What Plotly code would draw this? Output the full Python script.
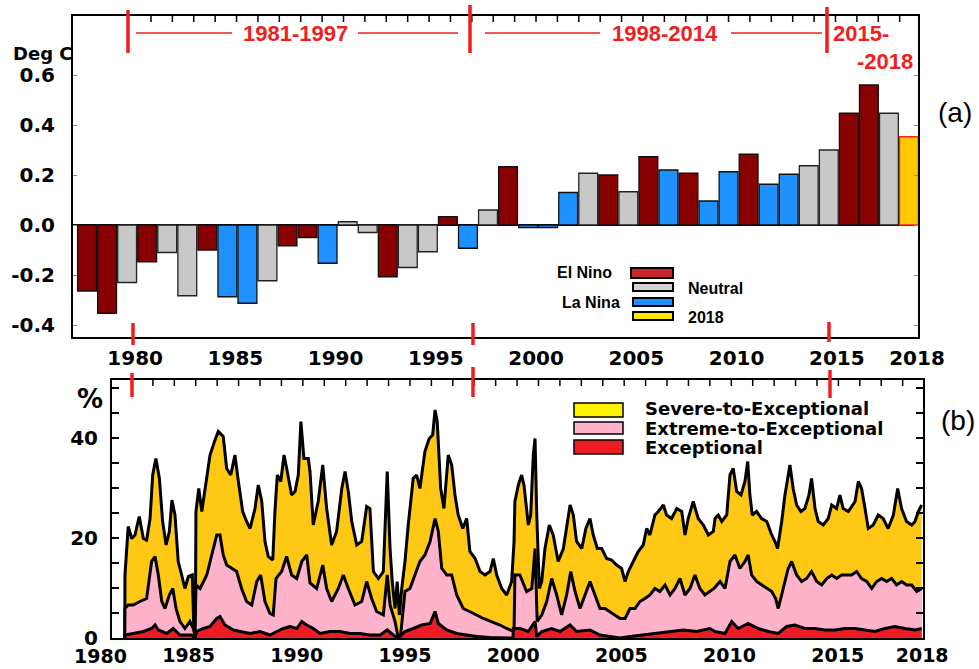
import plotly.graph_objects as go

W, H = 979, 669

# ---------------- Panel (a): annual temperature anomaly ----------------
YEARS_A = list(range(1977, 2019))
ANOMALY = [-0.264, -0.353, -0.23, -0.147, -0.11, -0.283, -0.10, -0.287, -0.313, -0.223,
           -0.083, -0.05, -0.153, 0.013, -0.03, -0.207, -0.17, -0.107, 0.033, -0.093,
           0.06, 0.233, -0.01, -0.01, 0.13, 0.207, 0.2, 0.133, 0.273, 0.22,
           0.207, 0.096, 0.213, 0.283, 0.163, 0.203, 0.237, 0.3, 0.447, 0.56,
           0.447, 0.353]
PHASE = ["E", "E", "N", "E", "N", "N", "E", "L", "L", "N",
         "E", "E", "L", "N", "N", "E", "N", "N", "E", "L",
         "N", "E", "L", "L", "L", "N", "E", "N", "E", "L",
         "E", "L", "L", "E", "L", "L", "N", "N", "E", "E",
         "N", "Y"]
PHASE_NAMES = {"E": "El Nino", "N": "Neutral", "L": "La Nina", "Y": "2018"}
TOP_TICK_VALS = [1980, 1985, 1990, 1995, 2000, 2005, 2010, 2015, 2019]
TOP_TICK_TEXT = ["1980", "1985", "1990", "1995", "2000", "2005", "2010", "2015", "2018"]
TOP_Y_TICKS = [-0.4, -0.2, 0.0, 0.2, 0.4, 0.6]
TOP_Y_TEXT = ["-0.4", "-0.2", "0.0", "0.2", "0.4", "0.6"]
PERIODS = ["1981-1997", "1998-2014", "2015-", "-2018"]

# ---------------- Panel (b): drought area (%) ----------------
SEV_T = [1982.05, 1982.06, 1982.21, 1982.37, 1982.52, 1982.72, 1982.91, 1983.06, 1983.22, 1983.34,
         1983.49, 1983.65, 1983.80, 1983.96, 1984.11, 1984.23, 1984.37, 1984.52, 1984.68, 1984.83,
         1984.99, 1985.17, 1985.25, 1985.31, 1985.34, 1985.47, 1985.61, 1985.84, 1985.99, 1986.22,
         1986.37, 1986.60, 1986.76, 1986.95, 1987.14, 1987.30, 1987.50, 1987.68, 1987.84, 1988.07,
         1988.22, 1988.38, 1988.53, 1988.68, 1988.89, 1988.99, 1989.10, 1989.26, 1989.41, 1989.56,
         1989.76, 1989.92, 1990.07, 1990.19, 1990.33, 1990.53, 1990.61, 1990.76, 1990.99, 1991.20,
         1991.38, 1991.61, 1991.84, 1992.08, 1992.23, 1992.38, 1992.54, 1992.77, 1993.00, 1993.23,
         1993.38, 1993.54, 1993.77, 1994.00, 1994.18, 1994.31, 1994.41, 1994.54, 1994.64, 1994.74,
         1994.85, 1995.00, 1995.15, 1995.38, 1995.54, 1995.69, 1995.92, 1996.12, 1996.28, 1996.39,
         1996.49, 1996.65, 1996.80, 1997.00, 1997.16, 1997.31, 1997.46, 1997.67, 1997.85, 1998.00,
         1998.24, 1998.47, 1998.70, 1998.93, 1999.08, 1999.24, 1999.47, 1999.70, 1999.93, 2000.04,
         2000.08, 2000.24, 2000.39, 2000.50, 2000.70, 2000.81, 2000.93, 2001.01, 2001.09, 2001.21,
         2001.32, 2001.47, 2001.67, 2001.85, 2002.08, 2002.32, 2002.47, 2002.63, 2002.78, 2002.93,
         2003.17, 2003.36, 2003.55, 2003.70, 2003.89, 2004.09, 2004.32, 2004.55, 2004.78, 2005.01,
         2005.17, 2005.32, 2005.55, 2005.78, 2006.01, 2006.17, 2006.32, 2006.55, 2006.71, 2006.94,
         2007.09, 2007.32, 2007.56, 2007.79, 2007.94, 2008.09, 2008.32, 2008.55, 2008.79, 2009.02,
         2009.25, 2009.33, 2009.48, 2009.64, 2009.87, 2010.02, 2010.17, 2010.33, 2010.53, 2010.71,
         2010.84, 2010.94, 2011.05, 2011.25, 2011.48, 2011.72, 2011.95, 2012.10, 2012.22, 2012.41,
         2012.56, 2012.79, 2012.94, 2013.10, 2013.30, 2013.48, 2013.67, 2013.79, 2013.95, 2014.10,
         2014.33, 2014.56, 2014.72, 2014.95, 2015.10, 2015.25, 2015.49, 2015.80, 2015.95, 2016.10,
         2016.26, 2016.41, 2016.64, 2016.87, 2017.10, 2017.33, 2017.57, 2017.77, 2017.95, 2018.18,
         2018.42, 2018.57, 2018.72, 2018.88]
SEV_V = [0, 12.6, 22.3, 19.9, 20.6, 24.3, 19.9, 19.6, 23.9, 32.6,
         35.9, 31.9, 23.3, 18.6, 21.3, 27.6, 24.6, 15.3, 12.6, 9.9,
         12.3, 12.6, 0.6, 0.6, 25.3, 29.9, 25.3, 31.9, 36.6, 39.6,
         41.3, 40.3, 33.9, 32.6, 36.6, 31.3, 25.3, 23.3, 21.9, 25.9,
         30.6, 27.3, 19.3, 16.3, 15.6, 25.3, 32.6, 31.3, 36.6, 33.3,
         28.6, 29.3, 32.6, 43.3, 35.9, 35.9, 33.3, 22.6, 27.3, 34.6,
         25.9, 18.6, 21.3, 29.9, 33.3, 29.3, 23.3, 18.6, 19.3, 26.3,
         25.9, 13.3, 11.9, 13.3, 33.3, 17.9, 11.3, 5.9, 11.3, 4.6,
         9.9, 15.3, 22.6, 31.9, 32.6, 29.9, 37.3, 39.9, 40.6, 45.6,
         43.3, 29.9, 25.9, 36.6, 34.6, 28.6, 24.6, 21.9, 23.9, 17.3,
         15.9, 13.3, 12.6, 13.3, 15.9, 12.6, 9.9, 8.6, 11.3, 19.3,
         27.3, 30.6, 32.6, 30.6, 22.6, 24.6, 36.6, 39.9, 24.6, 9.9,
         11.3, 17.9, 22.6, 20.6, 15.3, 17.9, 22.6, 26.6, 24.6, 19.3,
         17.9, 21.9, 23.9, 20.6, 17.9, 17.9, 15.9, 15.6, 14.6, 13.9,
         11.3, 13.3, 15.3, 17.3, 18.6, 21.9, 20.6, 24.6, 25.3, 26.6,
         24.6, 23.9, 25.9, 25.3, 20.6, 23.9, 27.3, 23.9, 22.6, 20.6,
         21.3, 23.9, 24.6, 23.3, 24.6, 32.6, 33.9, 29.3, 28.6, 31.3,
         35.3, 28.6, 24.6, 25.3, 23.9, 23.3, 20.6, 19.3, 17.9, 23.3,
         28.6, 34.6, 29.9, 26.6, 25.3, 25.9, 28.6, 31.9, 25.9, 23.3,
         22.6, 23.9, 26.6, 25.9, 28.6, 25.9, 25.3, 27.3, 31.3, 29.9,
         25.9, 21.9, 22.6, 24.6, 23.9, 21.9, 24.6, 29.9, 25.9, 23.3,
         22.6, 23.3, 25.3, 26.6]

EXT_T = [1982.05, 1982.06, 1982.21, 1982.44, 1982.75, 1983.06, 1983.29, 1983.45, 1983.60, 1983.76,
         1983.91, 1984.11, 1984.27, 1984.42, 1984.60, 1984.83, 1985.06, 1985.22, 1985.30, 1985.34,
         1985.53, 1985.84, 1986.07, 1986.30, 1986.45, 1986.60, 1986.76, 1986.99, 1987.22, 1987.45,
         1987.68, 1987.92, 1988.15, 1988.33, 1988.53, 1988.76, 1988.91, 1989.04, 1989.30, 1989.53,
         1989.76, 1990.00, 1990.23, 1990.46, 1990.61, 1990.92, 1991.20, 1991.38, 1991.61, 1991.92,
         1992.15, 1992.38, 1992.69, 1993.00, 1993.23, 1993.46, 1993.69, 1994.00, 1994.18, 1994.31,
         1994.54, 1994.69, 1994.80, 1995.00, 1995.23, 1995.46, 1995.69, 1995.92, 1996.16, 1996.39,
         1996.54, 1996.70, 1996.93, 1997.16, 1997.39, 1997.69, 1998.00, 1998.31, 1998.62, 1999.01,
         1999.39, 1999.70, 2000.04, 2000.08, 2000.31, 2000.62, 2000.86, 2001.01, 2001.11, 2001.32,
         2001.55, 2001.78, 2002.01, 2002.24, 2002.47, 2002.66, 2002.86, 2003.09, 2003.32, 2003.55,
         2003.78, 2004.01, 2004.24, 2004.47, 2004.70, 2004.94, 2005.17, 2005.40, 2005.63, 2005.86,
         2006.09, 2006.32, 2006.55, 2006.78, 2007.02, 2007.25, 2007.48, 2007.71, 2007.94, 2008.17,
         2008.40, 2008.63, 2008.86, 2009.09, 2009.28, 2009.56, 2009.79, 2010.02, 2010.25, 2010.48,
         2010.71, 2010.86, 2011.02, 2011.25, 2011.48, 2011.72, 2011.95, 2012.13, 2012.25, 2012.48,
         2012.71, 2012.87, 2013.10, 2013.33, 2013.56, 2013.79, 2014.03, 2014.26, 2014.49, 2014.72,
         2014.95, 2015.18, 2015.41, 2015.64, 2015.87, 2016.10, 2016.34, 2016.57, 2016.80, 2017.03,
         2017.26, 2017.49, 2017.72, 2017.95, 2018.18, 2018.42, 2018.65, 2018.88]
EXT_V = [0, 5.9, 6.6, 6.6, 7.3, 7.9, 15.3, 16.3, 12.6, 7.3,
         5.9, 8.6, 9.9, 5.9, 3.3, 1.9, 3.3, 1.9, 0.3, 10.6,
         9.9, 12.6, 16.6, 20.6, 20.6, 16.6, 14.6, 13.9, 13.3, 9.9,
         7.3, 6.6, 11.3, 12.6, 7.3, 4.9, 4.6, 11.9, 13.3, 16.3,
         12.6, 11.9, 15.3, 16.6, 11.0, 9.9, 14.6, 9.9, 7.3, 9.9,
         12.6, 9.9, 6.6, 7.3, 11.3, 7.9, 5.3, 4.6, 12.6, 6.6,
         3.3, 0, 0.6, 9.3, 9.9, 12.6, 15.3, 16.6, 19.3, 23.9,
         21.3, 13.9, 12.6, 12.6, 8.6, 5.9, 5.3, 4.6, 3.9, 3.3,
         2.6, 1.9, 1.3, 12.6, 12.6, 9.3, 9.9, 17.9, 3.3, 4.6,
         7.3, 11.9, 8.6, 4.6, 8.6, 13.3, 9.3, 5.9, 8.6, 11.3,
         8.6, 5.9, 5.9, 5.3, 4.6, 3.9, 3.9, 5.9, 5.9, 7.3,
         7.9, 8.6, 9.9, 9.3, 10.6, 8.6, 9.9, 11.9, 8.6, 9.9,
         12.6, 9.9, 8.6, 9.3, 9.9, 11.3, 9.9, 15.3, 16.6, 13.9,
         15.3, 16.6, 12.6, 11.3, 10.6, 9.9, 9.3, 7.9, 5.9, 9.9,
         13.9, 15.3, 12.6, 11.3, 11.9, 13.3, 11.3, 10.6, 11.9, 12.6,
         11.9, 12.6, 12.6, 12.6, 13.3, 11.9, 11.3, 9.9, 11.3, 11.9,
         11.3, 11.9, 10.6, 11.3, 10.6, 10.6, 9.3, 9.9]

EXC_T = [1982.05, 1982.06, 1982.44, 1982.91, 1983.29, 1983.45, 1983.60, 1983.99, 1984.29, 1984.60,
         1985.14, 1985.30, 1985.37, 1985.68, 1985.99, 1986.30, 1986.45, 1986.68, 1987.07, 1987.45,
         1987.84, 1988.30, 1988.76, 1989.07, 1989.38, 1989.69, 1990.00, 1990.23, 1990.46, 1990.76,
         1991.07, 1991.53, 1992.00, 1992.46, 1992.92, 1993.38, 1993.85, 1994.18, 1994.46, 1994.69,
         1995.00, 1995.38, 1995.77, 1996.16, 1996.39, 1996.54, 1996.93, 1997.39, 1997.85, 1998.31,
         1998.93, 1999.54, 1999.99, 2000.01, 2000.31, 2000.70, 2001.01, 2001.09, 2001.32, 2001.78,
         2002.16, 2002.63, 2002.93, 2003.55, 2004.01, 2004.47, 2004.94, 2005.40, 2006.01, 2006.63,
         2007.25, 2007.86, 2008.48, 2009.09, 2009.33, 2009.79, 2010.10, 2010.40, 2010.86, 2011.33,
         2011.79, 2012.25, 2012.64, 2013.02, 2013.48, 2013.95, 2014.41, 2014.87, 2015.33, 2015.80,
         2016.26, 2016.72, 2017.18, 2017.64, 2018.11, 2018.57, 2018.88]
EXC_V = [0, 0.6, 0.9, 1.3, 1.9, 2.6, 1.6, 0.9, 1.9, 0.6,
         0.6, 0, 1.3, 1.9, 2.3, 3.9, 4.3, 2.6, 1.6, 1.3,
         0.9, 1.3, 0.6, 1.3, 1.9, 2.3, 1.9, 3.3, 2.6, 1.9,
         0.9, 1.3, 1.3, 0.9, 0.9, 0.6, 0.6, 1.6, 0.6, 0,
         1.3, 1.9, 2.6, 2.9, 5.3, 2.9, 1.6, 0.9, 0.6, 0.3,
         0.1, 0, 0, 1.9, 1.9, 1.3, 3.3, 0.3, 1.3, 1.9,
         1.3, 2.6, 1.3, 1.6, 0.6, 0.3, 0, 0.3, 0.6, 0.9,
         1.3, 1.6, 1.3, 1.9, 1.3, 0.9, 3.3, 1.9, 2.9, 1.9,
         1.3, 0.9, 2.3, 2.6, 1.9, 1.9, 1.6, 1.6, 1.9, 1.9,
         1.6, 1.3, 1.9, 2.3, 1.9, 1.6, 1.9]

BOTTOM_NAMES = ["Severe-to-Exceptional", "Extreme-to-Exceptional", "Exceptional"]
BOTTOM_TICK_VALS = [1985, 1990, 1995, 2000, 2005, 2010, 2015, 2018.9]
BOTTOM_TICK_TEXT = ["1985", "1990", "1995", "2000", "2005", "2010", "2015", "2018"]
BOTTOM_FIRST_LABEL = "1980"

# ---------------- styling ----------------
BAR_FILL = {"E": "#880000", "N": "#C8C8C8", "L": "#1E90FF", "Y": "#FFC800"}
BAR_EDGE = {"E": "#111111", "N": "#222222", "L": "#111111", "Y": "#FF2020"}
LEG_FILL = {"E": "#C8282C", "N": "#D2D2D2", "L": "#1E90FF", "Y": "#FFE600"}
AREA_FILL = ["#FFC814", "#FFB3CB", "#EE1C24"]
AREA_SWATCH = ["#FFF200", "#FFB3CB", "#EE1C24"]
RED = "#F01E1E"
BOLD = dict(family="DejaVu Sans", size=20, color="black", weight="bold")
BOLD_X = dict(family="DejaVu Sans", size=19, color="black", weight="bold")

# small yearly tick marks along the top edge of each panel (axis decoration)
TOP_MINOR = [1980.79 + 1.067 * i for i in range(36)]
BOT_MINOR = [1982.36 + 0.99 * i for i in range(37)]


def PX(x):
    return x / W


def PY(y):
    return 1 - y / H


fig = go.Figure()

for code in ["E", "N", "L", "Y"]:
    xs = [yr for yr, p in zip(YEARS_A, PHASE) if p == code]
    vs = [v for v, p in zip(ANOMALY, PHASE) if p == code]
    fig.add_trace(go.Bar(
        x=xs, y=vs, name=PHASE_NAMES[code], width=0.94, offset=0.13,
        marker=dict(color=BAR_FILL[code], line=dict(color=BAR_EDGE[code], width=1.3)),
        xaxis="x", yaxis="y", showlegend=False))

for t, v, fc in zip([SEV_T, EXT_T, EXC_T], [SEV_V, EXT_V, EXC_V], AREA_FILL):
    fig.add_trace(go.Scatter(
        x=t, y=v, mode="lines", fill="tozeroy", fillcolor=fc,
        line=dict(color="black", width=3), xaxis="x2", yaxis="y2", showlegend=False))

shapes = []
annotations = []

# top-edge yearly tick marks
for t in TOP_MINOR:
    shapes.append(dict(type="line", xref="x", yref="paper", x0=t, x1=t,
                       y0=PY(16), y1=PY(22), line=dict(color="black", width=1.5)))
for t in BOT_MINOR:
    shapes.append(dict(type="line", xref="x2", yref="paper", x0=t, x1=t,
                       y0=PY(380), y1=PY(386), line=dict(color="black", width=1.5)))

# period separators (red ticks)
for (x, y0, y1) in [(128, 10, 53), (470, 5, 53), (827, 7, 53),
                    (133, 323, 345), (473, 323, 345), (829, 322, 342),
                    (132, 373, 397), (473, 367, 397), (830, 370, 398)]:
    shapes.append(dict(type="line", xref="paper", yref="paper", x0=PX(x), x1=PX(x),
                       y0=PY(y0), y1=PY(y1), line=dict(color=RED, width=3.5)))
# period guide lines
for (x0, x1) in [(136, 232), (358, 458), (485, 600), (731, 822)]:
    shapes.append(dict(type="line", xref="paper", yref="paper", x0=PX(x0), x1=PX(x1),
                       y0=PY(33), y1=PY(33), line=dict(color=RED, width=1.5)))
red_font = dict(family="Liberation Sans", size=22, color=RED, weight="bold")
annotations += [
    dict(text=PERIODS[0], x=PX(295), y=PY(33), xanchor="center", yanchor="middle", font=red_font),
    dict(text=PERIODS[1], x=PX(665), y=PY(33), xanchor="center", yanchor="middle", font=red_font),
    dict(text=PERIODS[2], x=PX(831), y=PY(33), xanchor="left", yanchor="middle", font=red_font),
    dict(text=PERIODS[3], x=PX(855), y=PY(61), xanchor="left", yanchor="middle", font=red_font),
]

# legend of panel (a)
leg_a = [("E", 631, 268, 278, "right", 614, 272),
         ("N", 633, 283, 291, "left", 686, 288),
         ("L", 633, 298, 306, "right", 622, 302),
         ("Y", 633, 312, 320, "left", 686, 317)]
leg_font = dict(family="Liberation Sans", size=16, color="black", weight="bold")
for code, x0, y0, y1, anchor, tx, ty in leg_a:
    shapes.append(dict(type="rect", xref="paper", yref="paper", x0=PX(x0), x1=PX(673),
                       y0=PY(y1), y1=PY(y0), fillcolor=LEG_FILL[code],
                       line=dict(color="black", width=2)))
    annotations.append(dict(text=PHASE_NAMES[code], x=PX(tx), y=PY(ty), xanchor=anchor,
                            yanchor="middle", font=leg_font))

# legend of panel (b)
leg_b_font = dict(family="DejaVu Sans", size=18, color="black", weight="bold")
for i, (y0, y1, ty) in enumerate([(403, 417, 409), (422, 434, 428), (440, 454, 447)]):
    shapes.append(dict(type="rect", xref="paper", yref="paper", x0=PX(574), x1=PX(623),
                       y0=PY(y1), y1=PY(y0), fillcolor=AREA_SWATCH[i],
                       line=dict(color="black", width=1.5)))
    annotations.append(dict(text=BOTTOM_NAMES[i], x=PX(643), y=PY(ty), xanchor="left",
                            yanchor="middle", font=leg_b_font))

# axis titles / panel tags
annotations += [
    dict(text="Deg C", x=PX(75), y=PY(53), xanchor="right", yanchor="middle",
         font=dict(family="DejaVu Sans", size=18, color="black", weight="bold")),
    dict(text="%", x=PX(90), y=PY(399), xanchor="center", yanchor="middle",
         font=dict(family="DejaVu Sans", size=26, color="black", weight="bold")),
    dict(text="(a)", x=PX(955), y=PY(113), xanchor="center", yanchor="middle",
         font=dict(family="Liberation Sans", size=28, color="black")),
    dict(text="(b)", x=PX(958), y=PY(420), xanchor="center", yanchor="middle",
         font=dict(family="Liberation Sans", size=28, color="black")),
    dict(text=BOTTOM_FIRST_LABEL, x=PX(100), y=PY(656), xanchor="center", yanchor="middle",
         font=BOLD_X),
]
for a in annotations:
    a.setdefault("xref", "paper")
    a.setdefault("yref", "paper")
    a["showarrow"] = False

frame = dict(showline=True, linecolor="black", linewidth=2, showgrid=False, zeroline=False)

fig.update_layout(
    width=W, height=H, template="none",
    margin=dict(l=0, r=0, t=0, b=0, pad=0),
    paper_bgcolor="white", plot_bgcolor="white",
    showlegend=False, barmode="overlay",
    font=dict(family="DejaVu Sans", color="black"),
    xaxis=dict(domain=[PX(73), PX(918)], range=[1976.90, 2019.05], anchor="y",
               tickmode="array", tickvals=TOP_TICK_VALS, ticktext=TOP_TICK_TEXT,
               ticks="", tickfont=BOLD, ticklabelstandoff=2, mirror=True, **frame),
    yaxis=dict(domain=[PY(337), PY(16)], range=[-0.448, 0.836], anchor="x",
               tickmode="array", tickvals=TOP_Y_TICKS, ticktext=TOP_Y_TEXT,
               ticks="inside", ticklen=4, tickcolor="#888888", tickfont=BOLD,
               ticklabelstandoff=12, mirror="ticks",
               showline=True, linecolor="black", linewidth=2, showgrid=False,
               zeroline=True, zerolinecolor="black", zerolinewidth=1.5),
    xaxis2=dict(domain=[PX(112), PX(923)], range=[1981.46, 2018.94], anchor="y2",
                tickmode="array", tickvals=BOTTOM_TICK_VALS, ticktext=BOTTOM_TICK_TEXT,
                ticks="", tickfont=BOLD_X, ticklabelstandoff=-1, mirror=True, **frame),
    yaxis2=dict(domain=[PY(638), PY(380)], range=[0, 51.6], anchor="x2",
                tickmode="linear", tick0=0, dtick=20, ticks="inside", ticklen=7,
                tickwidth=1.5, tickcolor="black", tickfont=BOLD, ticklabelstandoff=8,
                minor=dict(dtick=5, tick0=0, ticks="inside", ticklen=7, tickwidth=1.5,
                           tickcolor="black"),
                mirror="ticks", **frame),
    shapes=shapes,
    annotations=annotations,
)

fig.write_html(
    "out.html",
    config={"displayModeBar": False},
    post_script="document.body.style.margin='0';document.body.style.overflow='hidden';",
)
